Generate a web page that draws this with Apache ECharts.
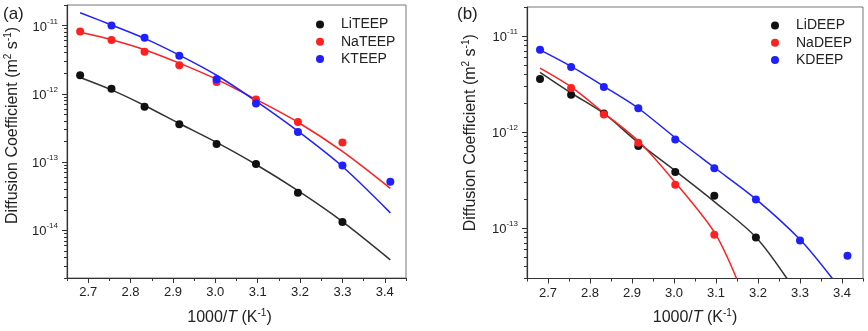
<!DOCTYPE html>
<html>
<head>
<meta charset="utf-8">
<title>Diffusion coefficient vs 1000/T</title>
<script src="https://cdn.jsdelivr.net/npm/echarts@6/dist/echarts.min.js"></script>
<style>
  html, body { margin: 0; padding: 0; background: #fff; }
  #chart { width: 868px; height: 331px; }
</style>
</head>
<body>
<div id="chart"></div>
<script>
// 1000/T for 100, 90, ... 20 °C
const invT = [2.681, 2.755, 2.833, 2.915, 3.003, 3.096, 3.195, 3.300, 3.413];
const xTicks = [2.7, 2.8, 2.9, 3.0, 3.1, 3.2, 3.3, 3.4];
const xMinorTicks = [2.65, 2.75, 2.85, 2.95, 3.05, 3.15, 3.25, 3.35, 3.45];
const yTicksA = [1e-14, 1e-13, 1e-12, 1e-11];
const yTicksB = [1e-13, 1e-12, 1e-11];

// (a) TEEP electrolytes, measured points (null = no point)
const liTEEP = [1.87e-12, 1.19e-12, 6.45e-13, 3.58e-13, 1.84e-13, 9.4e-14, 3.55e-14, 1.32e-14, null];
const naTEEP = [8.15e-12, 6.14e-12, 4.13e-12, 2.63e-12, 1.49e-12, 8.28e-13, 3.87e-13, 1.94e-13, null];
const kTEEP = [null, 1.0e-11, 6.65e-12, 3.6e-12, 1.63e-12, 7.22e-13, 2.76e-13, 8.9e-14, 5.16e-14];

// (a) fitted curves, read at the same x positions
const liTEEPFit = [1.73e-12, 1.14e-12, 6.74e-13, 3.67e-13, 1.94e-13, 9.2e-14, 3.8e-14, 1.34e-14, 3.69e-15];
const naTEEPFit = [7.97e-12, 6.21e-12, 4.43e-12, 2.81e-12, 1.63e-12, 8.28e-13, 3.83e-13, 1.43e-13, 4.11e-14];
const kTEEPFit = [1.54e-11, 1.02e-11, 6.5e-12, 3.69e-12, 1.87e-12, 7.81e-13, 2.83e-13, 8.59e-14, 1.8e-14];

// (b) DEEP electrolytes, measured points
const liDEEP = [3.56e-12, 2.45e-12, 1.56e-12, 7.16e-13, 3.85e-13, 2.18e-13, 8.0e-14, null, null];
const naDEEP = [null, 2.88e-12, 1.52e-12, 7.76e-13, 2.83e-13, 8.53e-14, null, null, null];
const kDEEP = [7.17e-12, 4.74e-12, 2.94e-12, 1.77e-12, 8.39e-13, 4.21e-13, 1.99e-13, 7.45e-14, 5.18e-14];

// (b) fitted curves (they run out through the bottom of the frame)
const liDEEPFitX = [2.681, 2.755, 2.833, 2.915, 3.003, 3.096, 3.195, 3.269];
const liDEEPFit = [4.18e-12, 2.55e-12, 1.56e-12, 7.76e-13, 3.95e-13, 1.89e-13, 8.07e-14, 3.0e-14];
const naDEEPFitX = [2.681, 2.755, 2.833, 2.915, 3.003, 3.096, 3.149];
const naDEEPFit = [4.63e-12, 2.95e-12, 1.58e-12, 8.07e-13, 2.99e-13, 9.1e-14, 3.0e-14];
const kDEEPFitX = [2.681, 2.755, 2.833, 2.915, 3.003, 3.096, 3.195, 3.300, 3.377];
const kDEEPFit = [7.17e-12, 4.82e-12, 2.99e-12, 1.77e-12, 8.73e-13, 4.28e-13, 2.01e-13, 7.63e-14, 3.0e-14];

const FONT = '"Liberation Sans", Arial, sans-serif';
const BLACK = '#111111';
const RED = '#ff2020';
const BLUE = '#2020ff';

function pairs(xs, ys) {
  return xs.map((x, i) => [x, ys[i]]).filter(p => p[1] != null);
}

function logMinorTicks(lo, hi) {
  const out = [];
  for (let e = -16; e <= -10; e++) {
    for (let m = 2; m <= 9; m++) {
      const v = m * Math.pow(10, e);
      if (v >= lo * 0.999 && v <= hi * 1.001) out.push(v);
    }
  }
  return out;
}

function powLabel(v) {
  const e = Math.round(Math.log10(v));
  return '{b|10}{s|' + e + '}';
}

const labelRich = {
  b: { fontSize: 13, fontFamily: FONT, color: '#222', lineHeight: 16, verticalAlign: 'bottom' },
  s: { fontSize: 8, fontFamily: FONT, color: '#222', lineHeight: 9, verticalAlign: 'top' }
};
const nameRich = {
  n: { fontSize: 16, fontFamily: FONT, color: '#222', lineHeight: 19 },
  i: { fontSize: 16, fontFamily: FONT, color: '#222', lineHeight: 19, fontStyle: 'italic' },
  sup: { fontSize: 10, fontFamily: FONT, color: '#222', lineHeight: 11, verticalAlign: 'top' }
};

function xAxes(grid) {
  return [
    {
      type: 'value', gridIndex: grid, min: 2.65, max: 3.45, position: 'bottom',
      name: '{n|1000/}{i|T}{n| (K}{sup|-1}{n|)}',
      nameLocation: 'middle', nameGap: 30,
      nameTextStyle: { rich: nameRich, padding: grid === 0 ? [0, 14, 0, 0] : 0 },
      axisLine: { show: true, onZero: false, lineStyle: { color: '#333', width: 1.2 } },
      axisTick: { show: true, length: 5, customValues: xTicks, lineStyle: { color: '#333' } },
      axisLabel: {
        customValues: xTicks, margin: 8, fontSize: 13, fontFamily: FONT, color: '#222',
        formatter: v => v.toFixed(1)
      },
      splitLine: { show: false }
    },
    {
      type: 'value', gridIndex: grid, min: 2.65, max: 3.45, position: 'bottom',
      axisLine: { show: false, onZero: false },
      axisTick: { show: true, length: 3, customValues: xMinorTicks, lineStyle: { color: '#333' } },
      axisLabel: { show: false },
      splitLine: { show: false }
    }
  ];
}

function yAxes(grid, lo, hi, ticks, gap, shift) {
  return [
    {
      type: 'log', logBase: 10, gridIndex: grid, min: lo, max: hi, position: 'left',
      name: '{n|Diffusion Coefficient (m}{sup|2}{n| s}{sup|-1}{n|)}',
      nameLocation: 'middle', nameGap: gap, nameRotate: 90,
      nameTextStyle: { rich: nameRich, padding: [0, 0, 0, shift] },
      axisLine: { show: true, onZero: false, lineStyle: { color: '#333', width: 1.2 } },
      axisTick: { show: true, length: 5, customValues: ticks, lineStyle: { color: '#333' } },
      axisLabel: { customValues: ticks, margin: 9, formatter: powLabel, rich: labelRich },
      splitLine: { show: false }
    },
    {
      type: 'log', logBase: 10, gridIndex: grid, min: lo, max: hi, position: 'left',
      axisLine: { show: false, onZero: false },
      axisTick: { show: true, length: 3, customValues: logMinorTicks(lo, hi), lineStyle: { color: '#333' } },
      axisLabel: { show: false },
      splitLine: { show: false }
    }
  ];
}

function dots(name, xi, yi, data, color) {
  return {
    name: name, type: 'scatter', xAxisIndex: xi, yAxisIndex: yi,
    data: data, symbol: 'circle', symbolSize: 8, z: 5,
    itemStyle: { color: color, opacity: 1 }
  };
}

function fit(name, xi, yi, data, color) {
  return {
    name: name, type: 'line', xAxisIndex: xi, yAxisIndex: yi,
    data: data, showSymbol: false, symbol: 'none', smooth: 0.3, z: 3,
    lineStyle: { color: color, width: 1.5 }
  };
}

function legend(names, left, top) {
  return {
    data: names, orient: 'vertical', left: left, top: top, padding: 0,
    icon: 'circle', itemWidth: 32, itemHeight: 8, itemGap: 2.3,
    itemStyle: { opacity: 1 },
    textStyle: { fontSize: 14, lineHeight: 15, fontFamily: FONT, color: '#222' }
  };
}

const chart = echarts.init(document.getElementById('chart'), null, { renderer: 'canvas' });

chart.setOption({
  animation: false,
  backgroundColor: '#fff',
  textStyle: { fontFamily: FONT },
  grid: [
    { left: 67, top: 5, width: 339, height: 273, show: true, borderColor: '#777', borderWidth: 1 },
    { left: 527, top: 7, width: 336, height: 272, show: true, borderColor: '#777', borderWidth: 1 }
  ],
  xAxis: [...xAxes(0), ...xAxes(1)],
  yAxis: [
    ...yAxes(0, 2e-15, 2e-11, yTicksA, 45, 32),
    ...yAxes(1, 3e-14, 2e-11, yTicksB, 47, 20)
  ],
  legend: [
    legend(['LiTEEP', 'NaTEEP', 'KTEEP'], 316, 17),
    legend(['LiDEEP', 'NaDEEP', 'KDEEP'], 771, 18)
  ],
  graphic: [
    { type: 'text', left: 3, top: 6, style: { text: '(a)', fontSize: 17, fontFamily: FONT, fill: '#222' } },
    { type: 'text', left: 457, top: 6, style: { text: '(b)', fontSize: 17, fontFamily: FONT, fill: '#222' } }
  ],
  series: [
    fit('LiTEEP fit', 0, 0, pairs(invT, liTEEPFit), '#333'),
    fit('NaTEEP fit', 0, 0, pairs(invT, naTEEPFit), RED),
    fit('KTEEP fit', 0, 0, pairs(invT, kTEEPFit), BLUE),
    dots('LiTEEP', 0, 0, pairs(invT, liTEEP), BLACK),
    dots('NaTEEP', 0, 0, pairs(invT, naTEEP), RED),
    dots('KTEEP', 0, 0, pairs(invT, kTEEP), BLUE),

    fit('LiDEEP fit', 2, 2, pairs(liDEEPFitX, liDEEPFit), '#333'),
    fit('NaDEEP fit', 2, 2, pairs(naDEEPFitX, naDEEPFit), RED),
    fit('KDEEP fit', 2, 2, pairs(kDEEPFitX, kDEEPFit), BLUE),
    dots('LiDEEP', 2, 2, pairs(invT, liDEEP), BLACK),
    dots('NaDEEP', 2, 2, pairs(invT, naDEEP), RED),
    dots('KDEEP', 2, 2, pairs(invT, kDEEP), BLUE)
  ]
});
</script>
</body>
</html>
